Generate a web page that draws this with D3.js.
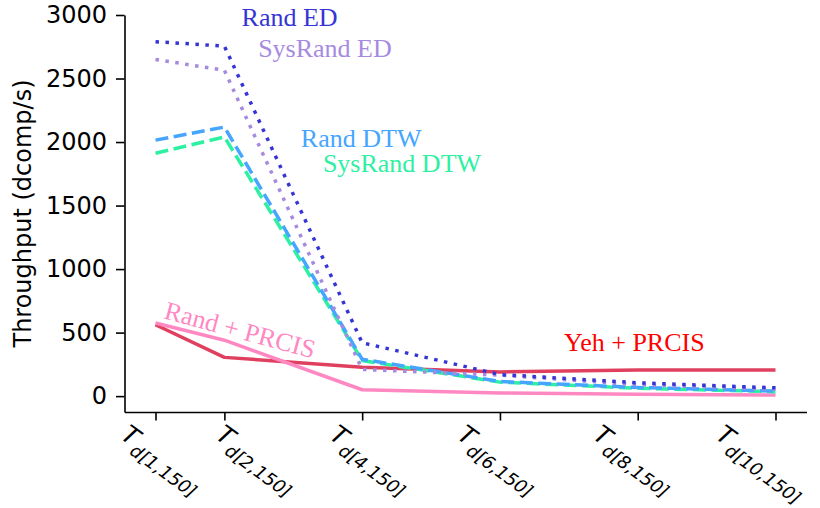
<!DOCTYPE html>
<html>
<head>
<meta charset="utf-8">
<script src="https://cdn.jsdelivr.net/npm/d3@7.9.0/dist/d3.min.js"></script>
<style>
  body { margin: 0; background: #fff; }
  svg { display: block; }
</style>
</head>
<body>
<div id="chart"></div>
<script>
// x positions (number of dims in T_d[k,150])
const xVals = [1, 2, 4, 6, 8, 10];
const xTickSubs = ['d[1,150]', 'd[2,150]', 'd[4,150]', 'd[6,150]', 'd[8,150]', 'd[10,150]'];
const yTicks = [0, 500, 1000, 1500, 2000, 2500, 3000];

// throughput (dcomp/s)
const randED = [2790, 2755, 420, 170, 105, 65];
const sysRandED = [2650, 2565, 210, 165, 90, 55];
const randDTW = [2015, 2118, 290, 115, 68, 40];
const sysRandDTW = [1912, 2040, 280, 110, 62, 35];
const randPRCIS = [575, 440, 50, 25, 15, 8];
const yehPRCIS = [562, 305, 228, 190, 205, 205];

const series = [
  { name: 'Yeh + PRCIS', values: yehPRCIS, color: '#e0405f', dash: null },
  { name: 'Rand + PRCIS', values: randPRCIS, color: '#ff88c2', dash: null },
  { name: 'SysRand DTW', values: sysRandDTW, color: '#2ef0a2', dash: '13,5.5' },
  { name: 'Rand DTW', values: randDTW, color: '#45a5ff', dash: '13,5.5' },
  { name: 'SysRand ED', values: sysRandED, color: '#a68ae0', dash: '3.5,6.5' },
  { name: 'Rand ED', values: randED, color: '#3535d5', dash: '3.5,6.5' },
];

// text annotations, placed in data coords
const notes = [
  { text: 'Rand ED', x: 2.25, y: 2912, color: '#3535d5', rot: 0 },
  { text: 'SysRand ED', x: 2.49, y: 2668, color: '#a68ae0', rot: 0 },
  { text: 'Rand DTW', x: 3.11, y: 1962, color: '#45a5ff', rot: 0 },
  { text: 'SysRand DTW', x: 3.43, y: 1765, color: '#2ef0a2', rot: 0 },
  { text: 'Yeh + PRCIS', x: 6.93, y: 355, color: '#ff0000', rot: 0 },
  { text: 'Rand + PRCIS', x: 1.11, y: 612, color: '#ff88c2', rot: 15 },
];

// horizontal shift of each rotated tick label from its tick (as in the source figure)
const xLabelShift = [-30, -4, -28, -38, -40, -55];

const W = 820, H = 508;
const svg = d3.select('#chart').append('svg').attr('width', W).attr('height', H);

const x = d3.scaleLinear().domain([0.55, 10.45]).range([124.5, 806.5]);
const y = d3.scaleLinear().domain([-125, 3000]).range([412, 15]);

const line = d3.line().x((d, i) => x(xVals[i])).y(d => y(d));

const g = svg.append('g');

// y axis
const yAxis = g.append('g')
  .attr('transform', `translate(${x.range()[0]},0)`)
  .call(d3.axisLeft(y).tickValues(yTicks).tickFormat(d3.format('d'))
    .tickSize(8.5).tickSizeOuter(0).tickPadding(9));
yAxis.selectAll('text')
  .attr('font-family', 'DejaVu Sans')
  .attr('font-size', 24)
  .attr('fill', '#000');

// x axis
g.append('g')
  .attr('transform', `translate(0,${y.range()[0]})`)
  .call(d3.axisBottom(x).tickValues(xVals).tickSize(8.5).tickSizeOuter(0).tickFormat(''));

g.selectAll('.domain, .tick line').attr('stroke', '#000').attr('stroke-width', 1.6);

// rotated math-style tick labels
xVals.forEach((v, i) => {
  const t = g.append('text')
    .attr('transform', `translate(${x(v) + xLabelShift[i] - 6},${y.range()[0] + 26}) rotate(36)`)
    .attr('font-family', 'DejaVu Sans')
    .attr('font-style', 'italic')
    .attr('fill', '#000');
  t.append('tspan').attr('font-size', 25).text('T');
  t.append('tspan').attr('font-size', 18).attr('dy', 7).attr('dx', 1).text(xTickSubs[i]);
});

// y label
g.append('text')
  .attr('transform', `translate(31,${(y.range()[0] + y.range()[1]) / 2}) rotate(-90)`)
  .attr('text-anchor', 'middle')
  .attr('font-family', 'DejaVu Sans')
  .attr('font-size', 24)
  .attr('fill', '#000')
  .text('Throughput (dcomp/s)');

// lines
g.selectAll('path.series')
  .data(series)
  .join('path')
  .attr('class', 'series')
  .attr('d', d => line(d.values))
  .attr('fill', 'none')
  .attr('stroke', d => d.color)
  .attr('stroke-width', 3.5)
  .attr('stroke-dasharray', d => d.dash)
  .attr('stroke-linejoin', 'round');

// annotations
g.selectAll('text.note')
  .data(notes)
  .join('text')
  .attr('class', 'note')
  .attr('transform', d => `translate(${x(d.x)},${y(d.y)}) rotate(${d.rot})`)
  .attr('font-family', 'Liberation Serif')
  .attr('font-size', 26)
  .attr('fill', d => d.color)
  .text(d => d.text);
</script>
</body>
</html>
